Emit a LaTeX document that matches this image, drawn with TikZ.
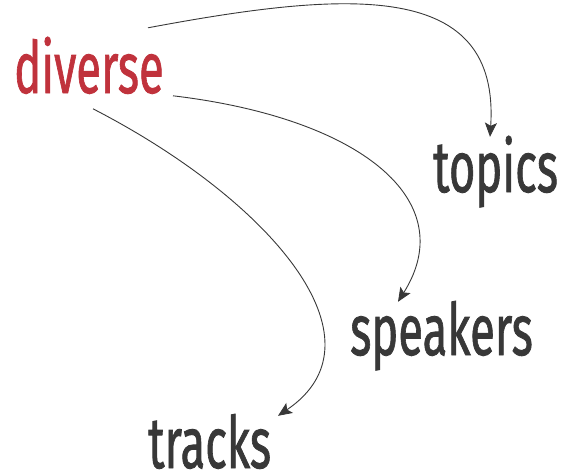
\documentclass[tikz,border=0pt]{standalone}
\usepackage{fontspec}
\usepackage{graphicx}
\newfontfamily\handfont[FakeBold=1.3]{Fira Sans}
\usetikzlibrary{arrows.meta}
\definecolor{divred}{RGB}{192,50,60}
\definecolor{ink}{RGB}{56,56,56}
\newcommand{\wordtext}[1]{\scalebox{0.63}[1]{\handfont\fontsize{72}{72}\selectfont #1}}
\tikzset{
  word/.style={anchor=base west, inner sep=0pt, text height=53pt, text depth=3pt, text=ink},
  link/.style={draw=ink, line width=0.9pt, -{Stealth[length=14pt, width=12pt, inset=3pt]}}
}
\begin{document}
\begin{tikzpicture}[x=1pt, y=-1pt]
\useasboundingbox (0,0) rectangle (579,474);
\node[word, text=divred] (diverse) at (14,93) {\wordtext{diverse}};
\node[word] (topics) at (433,192) {\wordtext{topics}};
\node[word] (speakers) at (350,355) {\wordtext{speakers}};
\node[word] (tracks) at (148,468) {\wordtext{tracks}};
\draw[link] ([xshift=134pt, yshift=12pt]diverse.north west) .. controls (350,-10) and (500,-20) .. ([xshift=57pt, yshift=2pt]topics.north west);
\draw[link] ([xshift=159pt, yshift=-56pt]diverse.north west) .. controls (360,118) and (462,200) .. ([xshift=48pt]speakers.north west);
\draw[link] ([xshift=79pt, yshift=-69pt]diverse.north west) .. controls (270,200) and (390,340) .. ([xshift=130pt, yshift=-1pt]tracks.north west);
\end{tikzpicture}
\end{document}
